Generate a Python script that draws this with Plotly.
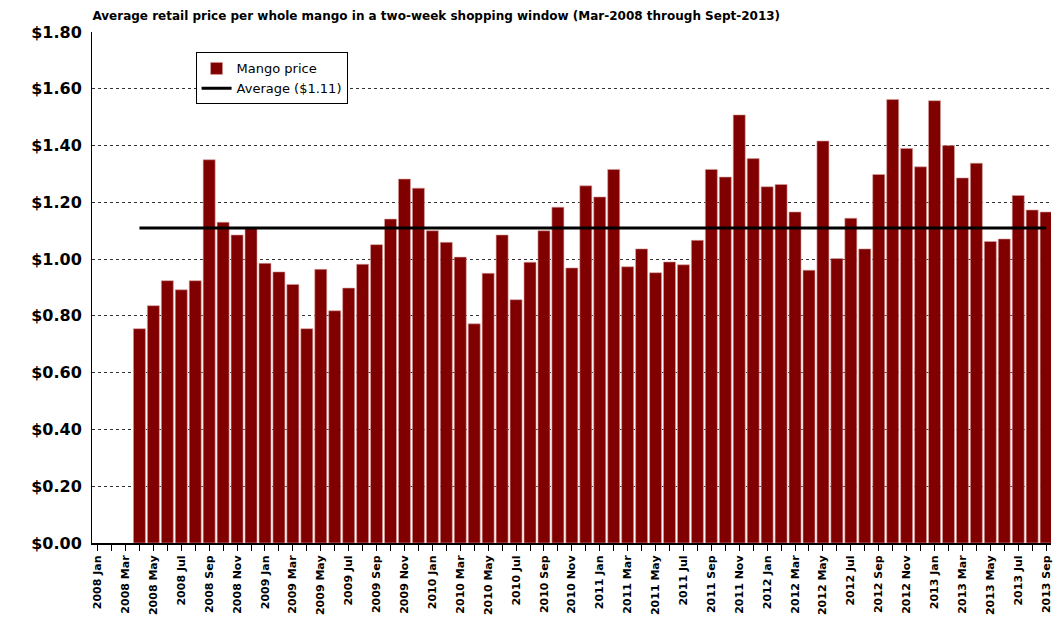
import plotly.graph_objects as go

months = ["Jan","Feb","Mar","Apr","May","Jun","Jul","Aug","Sep","Oct","Nov","Dec"]
categories = [f"{y} {m}" for y in range(2008, 2014) for m in months][:69]  # 2008 Jan .. 2013 Sep
prices = [None, None, None,
    0.755, 0.836, 0.924, 0.892, 0.924, 1.350, 1.130, 1.085, 1.108, 0.985, 0.955, 0.911,
    0.755, 0.964, 0.818, 0.898, 0.982, 1.051, 1.141, 1.282, 1.250, 1.100, 1.059, 1.007,
    0.772, 0.950, 1.085, 0.857, 0.989, 1.100, 1.183, 0.969, 1.258, 1.219, 1.316, 0.973,
    1.036, 0.952, 0.990, 0.980, 1.066, 1.316, 1.289, 1.508, 1.354, 1.255, 1.263, 1.166,
    0.961, 1.416, 1.002, 1.144, 1.036, 1.298, 1.562, 1.390, 1.325, 1.558, 1.400, 1.286,
    1.338, 1.062, 1.071, 1.224, 1.173, 1.166]
average = 1.11
y_ticks = [0, 0.2, 0.4, 0.6, 0.8, 1.0, 1.2, 1.4, 1.6, 1.8]

idx = list(range(len(categories)))
first = next(i for i, v in enumerate(prices) if v is not None)

fig = go.Figure()
fig.add_trace(go.Bar(x=idx, y=prices, name="Mango price",
                     marker=dict(color="#800000", line=dict(color="#d9a0a0", width=0.6))))
fig.add_trace(go.Scatter(x=[first, idx[-1]], y=[average, average], mode="lines",
                         name="Average ($1.11)", line=dict(color="black", width=3)))

ticktext = [c if i % 2 == 0 else "" for i, c in enumerate(categories)]
fig.update_layout(
    width=1055, height=622, margin=dict(l=84, r=12, t=24, b=87),
    plot_bgcolor="white", paper_bgcolor="white", bargap=0.14,
    font=dict(family="DejaVu Sans", color="black"),
    title=dict(text="<b>Average retail price per whole mango in a two-week shopping window (Mar-2008 through Sept-2013)</b>",
               x=0.08, xanchor="left", y=0.995, yanchor="top", font=dict(size=12)),
    legend=dict(x=0.108, y=0.96, xanchor="left", yanchor="top", bgcolor="white",
                bordercolor="black", borderwidth=1, font=dict(size=13),
                itemwidth=30, tracegroupgap=2),
    xaxis=dict(range=[-0.4, 68.35], tickmode="array", tickvals=idx, ticktext=ticktext,
               tickangle=-90, tickfont=dict(size=11, family="DejaVu Sans", weight="bold"),
               ticks="outside", ticklen=6, tickcolor="black", showline=True,
               linecolor="black", linewidth=2, showgrid=False, automargin=False),
    yaxis=dict(range=[0, 1.8], tickvals=y_ticks, ticktext=[f"<b>${v:.2f}</b>" for v in y_ticks],
               tickfont=dict(size=16), showgrid=True, gridcolor="#333", griddash="dot",
               gridwidth=1, showline=True, linecolor="black", linewidth=1,
               zeroline=False, ticks="", ticklabelstandoff=6, automargin=False),
)
fig.write_html("out.html")
